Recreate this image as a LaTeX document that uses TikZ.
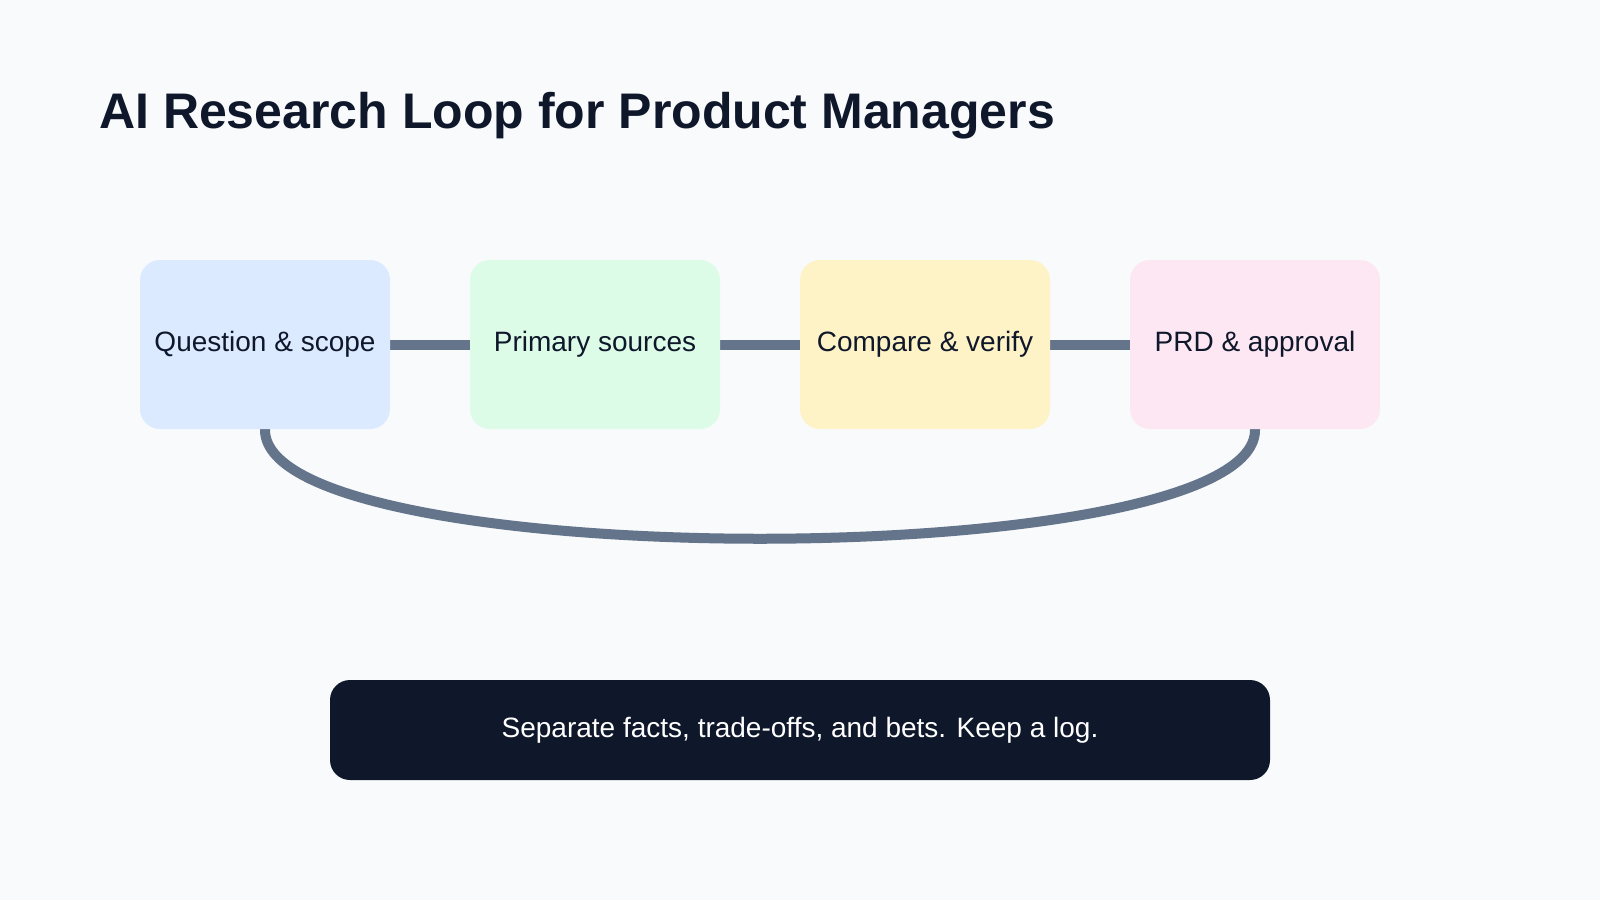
\documentclass[tikz,border=0pt]{standalone}
\usepackage{fontspec}
\setmainfont{Liberation Sans}
\definecolor{bg}{HTML}{F8FAFC}
\definecolor{ink}{HTML}{0F172A}
\definecolor{wire}{HTML}{64748B}
\definecolor{c1}{HTML}{DBEAFE}
\definecolor{c2}{HTML}{DCFCE7}
\definecolor{c3}{HTML}{FEF3C7}
\definecolor{c4}{HTML}{FCE7F3}
\begin{document}
\begin{tikzpicture}[x=1pt,y=-1pt,
  stage/.style={rounded corners=20pt,minimum width=250pt,minimum height=169pt,inner sep=0pt,text=ink,font=\fontsize{28}{32}\selectfont},
  link/.style={draw=wire,line width=10pt}]
\fill[bg] (0,0) rectangle (1600,900);
\useasboundingbox (0,0) rectangle (1600,900);
\node[anchor=base west,text=ink,font=\fontsize{50}{56}\selectfont\bfseries,inner sep=0pt] (title) at (99,128) {AI Research Loop for Product Managers};
\draw[link] (265,344.5) -- (1255,344.5);
\draw[link] (265,344.5) -- (265,430) .. controls (265,575) and (1255,575) .. (1255,430) -- (1255,344.5);
\node[stage,fill=c1] (a) at (265,344.5) {Question \& scope};
\node[stage,fill=c2] (b) at (595,344.5) {Primary sources};
\node[stage,fill=c3] (c) at (925,344.5) {Compare \& verify};
\node[stage,fill=c4] (d) at (1255,344.5) {PRD \& approval};
\node[fill=ink,rounded corners=20pt,minimum width=940pt,minimum height=100pt,text=white,font=\fontsize{28}{32}\selectfont] (note) at (800,730) {Separate facts, trade-offs, and bets. Keep a log.};
\end{tikzpicture}
\end{document}
